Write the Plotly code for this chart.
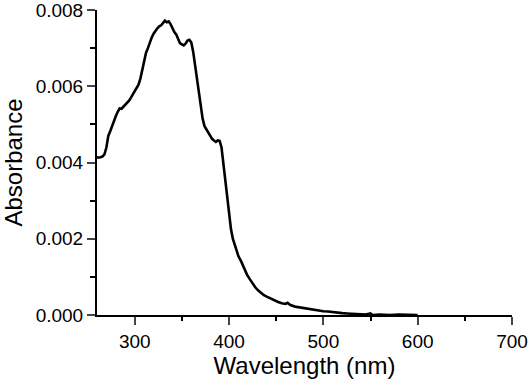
import plotly.graph_objects as go

wavelength = [260, 263, 266, 268, 270, 272, 274, 276, 278, 280, 282, 284, 286, 288, 290,
              292, 294, 296, 298, 300, 302, 304, 306, 308, 310, 312, 314, 316, 318, 320,
              322, 324, 326, 328, 330, 332, 334, 336, 338, 340, 342, 344, 346, 348, 350,
              352, 354, 356, 358, 360, 362, 364, 366, 368, 370, 372, 374, 376, 378, 380,
              382, 384, 386, 388, 390, 392, 394, 396, 398, 400, 402, 404, 406, 408, 410,
              413, 416, 419, 422, 425, 428, 431, 434, 437, 440, 444, 448, 452, 456, 460,
              462, 465, 470, 475, 480, 485, 490, 495, 500, 505, 510, 515, 520, 525, 530,
              535, 540, 545, 550, 552, 560, 570, 580, 593, 600]
absorbance = [0.00413, 0.00413, 0.00416, 0.00422, 0.00440, 0.00470, 0.00482, 0.00497, 0.00512, 0.00522,
              0.00533, 0.00542, 0.00541, 0.00546, 0.00550, 0.00556, 0.00562, 0.00570, 0.00578, 0.00585,
              0.00594, 0.00604, 0.00620, 0.00645, 0.00670, 0.00688, 0.00700, 0.00716, 0.00728, 0.00738,
              0.00746, 0.00752, 0.00757, 0.00760, 0.00766, 0.00772, 0.00768, 0.00770, 0.00763, 0.00752,
              0.00742, 0.00736, 0.00722, 0.00713, 0.00710, 0.00707, 0.00712, 0.00720, 0.00722, 0.00715,
              0.00690, 0.00652, 0.00615, 0.00580, 0.00545, 0.00515, 0.00495, 0.00487, 0.00477, 0.00468,
              0.00462, 0.00458, 0.00454, 0.00458, 0.00457, 0.00440, 0.00398, 0.00350, 0.00302, 0.00258,
              0.00226, 0.00200, 0.00184, 0.00168, 0.00154, 0.00140, 0.00122, 0.00106, 0.00094, 0.00082,
              0.00072, 0.00064, 0.00057, 0.00052, 0.00048, 0.00043, 0.00038, 0.00034, 0.00031, 0.00029,
              0.00032, 0.00026, 0.00022, 0.00020, 0.00017, 0.00015, 0.00013, 0.00012, 0.00010, 0.00009,
              0.00007, 0.00006, 0.00005, 0.00004, 0.00003, 0.00002, 0.00002, 0.00001, 0.00004, 0.00000,
              0.00001, 0.00000, 0.00001, 0.00001, 0.00000]

x_ticks = [300, 400, 500, 600, 700]
y_ticks = [0.000, 0.002, 0.004, 0.006, 0.008]
y_tick_labels = ["0.000", "0.002", "0.004", "0.006", "0.008"]

fig = go.Figure()
fig.add_trace(go.Scatter(x=wavelength, y=absorbance, mode="lines",
                         line=dict(color="black", width=2.6), showlegend=False))

font = "Liberation Sans, Arial, sans-serif"
fig.update_layout(
    width=529, height=379,
    margin=dict(l=97, r=17, t=10, b=64),
    paper_bgcolor="white", plot_bgcolor="white",
    font=dict(family=font, color="black"),
)
fig.update_xaxes(
    range=[260, 700.01], tickvals=x_ticks, ticks="outside", ticklen=8, tickwidth=2,
    showline=True, linecolor="black", linewidth=2, showgrid=False, zeroline=False,
    automargin=False, ticklabeloverflow="allow",
    tickfont=dict(size=19, family=font),
    minor=dict(tickvals=[350, 450, 550, 650], ticks="outside", ticklen=4, tickwidth=2, tickcolor="black"),
    title=dict(text="Wavelength (nm)", font=dict(size=24, family=font), standoff=4),
)
fig.update_yaxes(
    range=[0, 0.0080001], tickvals=y_ticks, ticktext=y_tick_labels, ticks="outside", ticklen=8, tickwidth=2,
    showline=True, linecolor="black", linewidth=2, showgrid=False, zeroline=False,
    automargin=False, ticklabeloverflow="allow",
    tickfont=dict(size=19, family=font),
    minor=dict(tickvals=[0.001, 0.003, 0.005, 0.007], ticks="outside", ticklen=5, tickwidth=2, tickcolor="black"),
    title=dict(text="Absorbance", font=dict(size=24, family=font), standoff=12),
)

fig.write_html("out.html", config={"displayModeBar": False},
               post_script="document.body.style.margin='0';document.body.style.overflow='hidden';")
